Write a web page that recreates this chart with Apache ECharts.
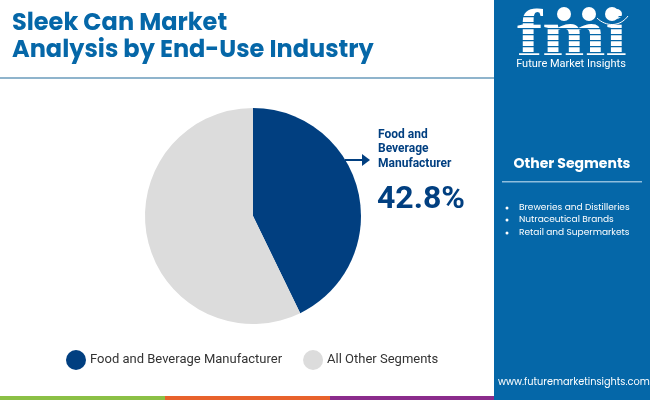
<!DOCTYPE html>
<html><head><meta charset="utf-8">
<style>html,body{margin:0;padding:0;background:#fff}#c{width:650px;height:400px}</style>
<script src="https://cdn.jsdelivr.net/npm/echarts@6/dist/echarts.min.js"></script>
</head><body><div id="c"></div>
<script>
const categories = ['Food and Beverage Manufacturer', 'All Other Segments'];
const values = [42.8, 57.2];
const titleLines = ['Sleek Can Market', 'Analysis by End-Use Industry'];
const calloutLines = ['Food and', 'Beverage', 'Manufacturer'];
const calloutValue = '42.8%';
const otherSegments = ['Breweries and Distilleries', 'Nutraceutical Brands', 'Retail and Supermarkets'];
const colors = ['#013F80', '#DCDCDC'];
const BLUE = '#0567A8';

const t = (x, y, text, font, fill, extra) => ({type:'text', x, y, z:10, style:Object.assign({text, font, fill, textVerticalAlign:'middle'}, extra||{})});
const r = (x, y, w, h, fill, z) => ({type:'rect', z:z||5, shape:{x,y,width:w,height:h}, style:{fill}});

const graphic = [
  r(494,0,156,400,BLUE,1),
  r(0,77,494,2,'#8FB4CC'),
  r(0,396,165,4,'#8BC045'), r(165,396,165,4,'#E8622C'), r(330,396,164,4,'#8B2C8C'),
  t(12,24,titleLines[0],'700 24px Poppins, Inter, sans-serif',BLUE),
  t(12,51,titleLines[1],'700 24px Poppins, Inter, sans-serif',BLUE),
  t(378,135,calloutLines[0],'700 12px Roboto',colors[0]),
  t(378,149,calloutLines[1],'700 12px Roboto',colors[0]),
  t(378,164,calloutLines[2],'700 12px Roboto',colors[0]),
  t(377,200,calloutValue,'700 32px Roboto',colors[0]),
  {type:'line', z:6, shape:{x1:345,y1:160,x2:364,y2:160}, style:{stroke:colors[0],lineWidth:2}},
  {type:'polygon', z:6, shape:{points:[[362,154],[370,160],[362,166]]}, style:{fill:colors[0]}},
  // logo
  {type:'text', x:517, y:71, scaleX:1.15, z:10, style:{text:'fmi', font:'700 66px "Liberation Serif", serif', fill:'#fff', textVerticalAlign:'bottom'}},
  ...[16,22,28,34,40,46,52].map(y => r(515,y,114,1.3,BLUE,11)),
  ...[564,589,612].map(x => ({type:'circle', z:12, shape:{cx:x,cy:14,r:7}, style:{fill:'#fff'}})),
  {type:'bezierCurve', z:12, shape:{x1:597,y1:18,x2:628,y2:16,cpx1:606,cpy1:27,cpx2:620,cpy2:27}, style:{stroke:'#fff',lineWidth:1,fill:'none'}},
  t(571,64,'Future Market Insights','400 11px Roboto','#fff',{textAlign:'center'}),
  t(572,164,'Other Segments','700 14px Poppins, Inter, sans-serif','#fff',{textAlign:'center'}),
  r(502,181,140,1.5,'#8FBEDD'),
  ...otherSegments.flatMap((s,i) => {
    const y = [208,220,233][i];
    return [{type:'circle', z:6, shape:{cx:507,cy:y,r:1.5}, style:{fill:'#fff'}},
            t(519,y,s,'400 9px Poppins, Inter, sans-serif','#fff')];
  }),
  t(498,383,'www.futuremarketinsights.com','400 9.75px Poppins, Inter, sans-serif','#fff')
];

const chart = echarts.init(document.getElementById('c'), null, {renderer:'canvas'});
chart.setOption({
  animation:false,
  color:colors,
  legend:{
    left:61, top:345, icon:'circle', itemWidth:20, itemHeight:20, itemGap:21,
    textStyle:{fontFamily:'Roboto', fontSize:13, color:'#333', padding:[4,0,0,-1]},
    data:categories
  },
  series:[{
    type:'pie', center:[253,216], radius:[0,108], startAngle:90,
    label:{show:false}, labelLine:{show:false}, silent:true,
    data:categories.map((name,i)=>({name, value:values[i]}))
  }],
  graphic:{elements:graphic}
});
</script></body></html>
